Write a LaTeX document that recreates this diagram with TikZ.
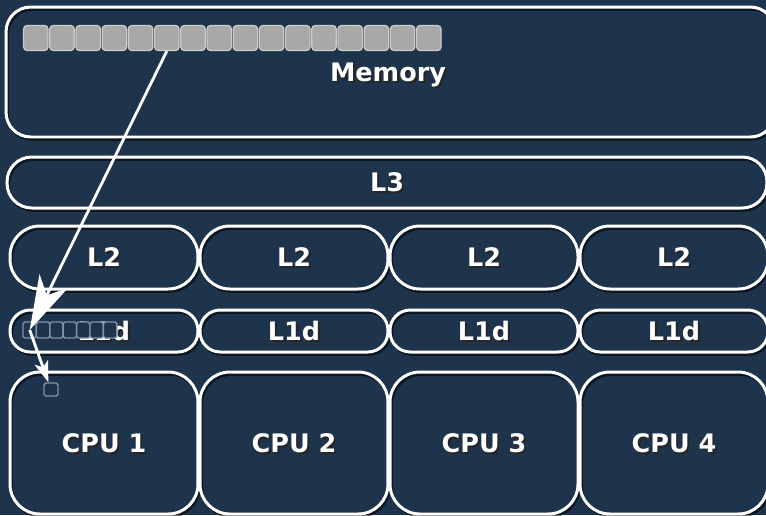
\documentclass[tikz,border=0pt]{standalone}
\usepackage{fontspec}
\setmainfont{DejaVu Sans}
\usetikzlibrary{arrows.meta}
\definecolor{navy}{RGB}{30,52,77}
\definecolor{cellgray}{RGB}{168,168,168}
\definecolor{celledge}{RGB}{205,205,205}
\definecolor{lineedge}{RGB}{130,146,162}
\newcommand{\txtshadow}[1]{\rlap{\kern1.2pt\smash{\raisebox{-1.2pt}{\color{black!85}#1}}}#1}
\tikzset{caption/.style={text=white, font=\bfseries\fontsize{14.5}{17}\selectfont, inner sep=0pt,
  text height=10.6pt, text depth=0pt},
box/.style={caption, draw=white, line width=1.7pt, rounded corners=#1,
  preaction={draw=black, opacity=0.55, transform canvas={shift={(0.9pt,-1.3pt)}}}},
%default corner radius
box/.default={14pt},
memcell/.style={draw=celledge, fill=cellgray, line width=0.7pt, rounded corners=2pt,
  minimum width=0.49cm, minimum height=0.5cm, inner sep=0pt},
linecell/.style={draw=lineedge, fill=navy, line width=0.8pt, rounded corners=1pt,
  minimum width=0.268cm, minimum height=0.32cm, inner sep=0pt},
flow/.style={draw=white, line width=1.6pt}}

\begin{document}
\begin{tikzpicture}[x=0.02cm,y=-0.02cm]
\fill[navy] (0,0) rectangle (766,515);
\clip (0,0) rectangle (766,515);

% memory and shared L3
\node[box, minimum width=15.38cm, minimum height=2.6cm] (mem) at (390.5,72) {};
\node[caption] (memlabel) at (388,72) {\txtshadow{Memory}};
\node[box=14pt, minimum width=15.2cm, minimum height=1.02cm] (l3) at (387,182.5) {\txtshadow{L3}};

% per core caches and cores
\foreach \i in {1,...,4} {
  \node[box=17pt, minimum width=3.76cm, minimum height=1.26cm] (l2-\i) at ({104+190*(\i-1)},257.5) {\txtshadow{L2}};
  \node[box=11.5pt, minimum width=3.76cm, minimum height=0.84cm] (l1-\i) at ({104+190*(\i-1)},331) {\txtshadow{L1d}};
  \node[box=17pt, minimum width=3.76cm, minimum height=2.84cm] (cpu-\i) at ({104+190*(\i-1)},443) {\txtshadow{CPU \i}};
}

%cache lines
\foreach \i in {1,...,16}
  \node[memcell] (m\i) at ({35.8+26.2*(\i-1)},38) {};
\foreach \i in {1,...,7}
  \node[linecell] (c\i) at ({29.7+13.4*(\i-1)},330) {};
\node[linecell, fill=none, minimum width=0.28cm, minimum height=0.26cm] (reg) at (51,389.5) {};

%loads
\draw[flow, -{Stealth[length=31pt, width=18pt, inset=9pt]}] (m6.south) -- (c1.center);
\draw[flow, -{Stealth[length=12pt, width=8pt, inset=3pt]}] (c1.center) -- (reg.110);

\end{tikzpicture}
\end{document}
